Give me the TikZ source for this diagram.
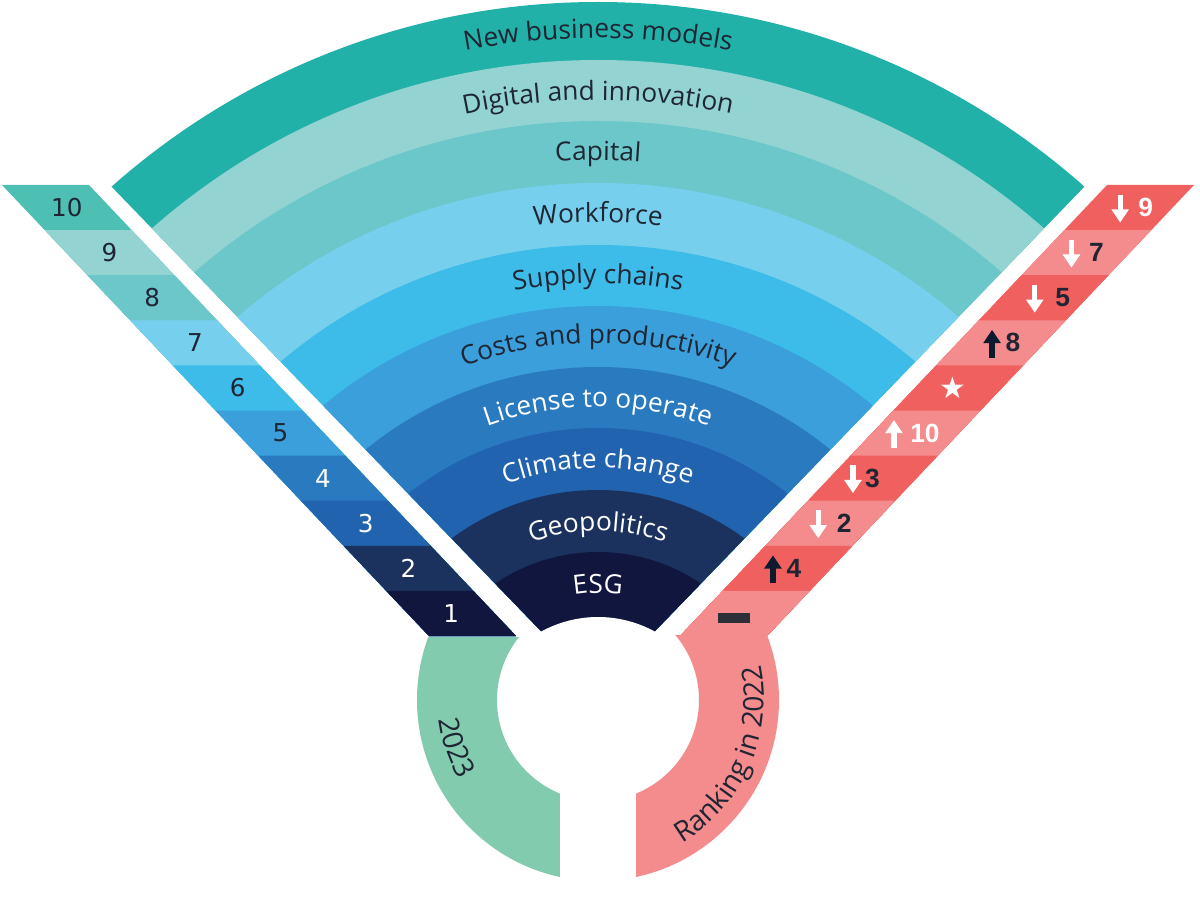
\documentclass[tikz,border=0pt]{standalone}
\usepackage{fontspec}
\setmainfont{Open Sans}
\newfontfamily\numfont{DejaVu Sans}
\newfontfamily\symfont{DejaVu Sans}
\newfontfamily\rnkfont{Liberation Sans}
\usetikzlibrary{calc,arrows.meta,decorations.text}

\definecolor{cnbm}{HTML}{21B1A9}
\definecolor{cdig}{HTML}{93D4D3}
\definecolor{ccap}{HTML}{6CC7CA}
\definecolor{cwrk}{HTML}{77CFEE}
\definecolor{csup}{HTML}{3EBCE9}
\definecolor{ccst}{HTML}{3A9FDA}
\definecolor{clic}{HTML}{2A7AC0}
\definecolor{cclm}{HTML}{2163AE}
\definecolor{cgeo}{HTML}{1C325E}
\definecolor{cesg}{HTML}{10163D}
\definecolor{rankten}{HTML}{4DBFB3}
\definecolor{ringgreen}{HTML}{83CBAF}
\definecolor{rred}{HTML}{F0605E}
\definecolor{rpink}{HTML}{F48B8D}
\definecolor{txtdark}{HTML}{1F2533}
\definecolor{navy}{HTML}{0E1A2D}
\definecolor{bardark}{HTML}{2E3039}

\newcommand\fanfont{\fontsize{15}{15}\selectfont}
\newcommand\ringfont{\fontsize{16}{16}\selectfont}
\newcommand\fanlabel[3]{\path[arclabel=#2, decoration={text={|\fanfont|#3}}]
  ($(fanc)+(130:#1)$) arc[start angle=130, end angle=50, radius=#1];}

\begin{document}
\begin{tikzpicture}[
x=0.02cm, y=0.02cm,
arclabel/.style={decorate, decoration={text along path, text align=center, text color=#1}},
leftnum/.style={font=\numfont\fontsize{14}{14}\selectfont, inner sep=0pt},
rightnum/.style={font=\rnkfont\bfseries\fontsize{15}{15}\selectfont, inner sep=0pt},
rankarrow/.style={line width=3pt, -{Triangle[width=9.5pt,length=7.5pt]}}
]
    \useasboundingbox (-598,-175) rectangle (602,735);

    \draw
    (0,0) coordinate (fanc)
    (0,35) coordinate (ringc)
    (-596,550) coordinate (lTL)
    (-509,550) coordinate (lTR)
    (-169,99) coordinate (lBL)
    (-82,99) coordinate (lBR)
    (509,550) coordinate (rTL)
    (596,550) coordinate (rTR)
    (82,99) coordinate (rBL)
    (169,99) coordinate (rBR);

    % Draw fan
    \begin{scope}
    \clip (0,45) -- (-748,819) -- (748,819) -- cycle;
    \foreach \r/\c in {733/cnbm, 675/cdig, 614/ccap, 552/cwrk, 490/csup, 429/ccst, 368/clic, 307/cclm, 245/cgeo, 183/cesg}
      \fill[fill=\c] (fanc) circle[radius=\r];
    \end{scope}
    \fill[white] (fanc) circle[radius=118];

    % Side bands
    \foreach \c [count=\k from 0] in {rankten, cdig, ccap, cwrk, csup, ccst, clic, cclm, cgeo, cesg}
      \fill[fill=\c] ($(lTL)!\k/10!(lBL)$) -- ($(lTR)!\k/10!(lBR)$) -- (lBR) -- (lBL) -- cycle;
    \foreach \c [count=\k from 0] in {rred, rpink, rred, rpink, rred, rpink, rred, rpink, rred, rpink}
      \fill[fill=\c] ($(rTL)!\k/10!(rBL)$) -- ($(rTR)!\k/10!(rBR)$) -- (rBR) -- (rBL) -- cycle;

    % Rings
    \begin{scope}
    \clip (-200,-160) rectangle (-38,97.5);
    \fill[ringgreen, even odd rule] (ringc) circle[radius=181] (ringc) circle[radius=101];
    \end{scope}
    \begin{scope}
    \clip (38,-160) rectangle (200,99.5);
    \fill[rpink, even odd rule] (ringc) circle[radius=181] (ringc) circle[radius=101];
    \end{scope}

    % Fan labels
    \fanlabel{697}{txtdark}{New business models}
    \fanlabel{635}{txtdark}{Digital and innovation}
    \fanlabel{575}{txtdark}{Capital}
    \fanlabel{513}{txtdark}{Workforce}
    \fanlabel{452}{txtdark}{Supply chains}
    \fanlabel{392}{txtdark}{Costs and productivity}
    \fanlabel{328}{white}{License to operate}
    \fanlabel{267}{white}{Climate change}
    \fanlabel{204}{white}{Geopolitics}
    \fanlabel{142}{white}{ESG}

    % Ring labels
    \path[arclabel=txtdark, decoration={text={|\ringfont|2023}}]
      ($(ringc)+(168.5:160)$) arc[start angle=168.5, end angle=228.5, radius=160];
    \path[arclabel=txtdark, decoration={text={|\ringfont|Ranking in 2022}}]
      ($(ringc)+(-73.7:166)$) arc[start angle=-73.7, end angle=26.3, radius=166];

    % Ranking 2023
    \foreach \n/\tc [count=\k from 0] in {10/txtdark, 9/txtdark, 8/txtdark, 7/txtdark, 6/txtdark, 5/txtdark, 4/white, 3/white, 2/white, 1/white}
      \node[leftnum, text=\tc] (l\n) at ($(lTL)!{(\k+0.5)/10}!(lBL) + (43.5,0)$) {\n};

    % Ranking 2022
    \foreach \s/\ya/\yb/\ac/\rk/\numc/\nx/\ax in {0/13/-15/white/9/white/16.5/-25.5, 1/13/-15/white/7/txtdark/10/-25, 2/13/-15/white/5/txtdark/19/-28, 3/-15/13/navy/8/txtdark/12/-21, 5/-15/13/white/10/white/9.3/-31, 6/13/-15/white/3/txtdark/-0.5/-19.5, 7/13/-15/white/2/txtdark/14/-26, 8/-15/13/navy/4/txtdark/6.4/-21}
    {
      \node[rightnum, text=\numc] (r\s) at ($(rTL)!{(\s+0.5)/10}!(rBL) + (43.5+\nx,0)$) {\rk};
      \draw[rankarrow, draw=\ac] ($(r\s)+(\ax,\ya)$) -- ($(r\s)+(\ax,\yb)$);
    }
    \node[font=\symfont\fontsize{17}{17}\selectfont, text=white, inner sep=0pt] (r4) at ($(rTL)!0.45!(rBL) + (37.8,0)$) {★};
    \node[fill=bardark, minimum width=0.64cm, minimum height=0.2cm, inner sep=0pt] (r9) at ($(rTL)!0.95!(rBL) + (32.5,-5)$) {};

\end{tikzpicture}
\end{document}
